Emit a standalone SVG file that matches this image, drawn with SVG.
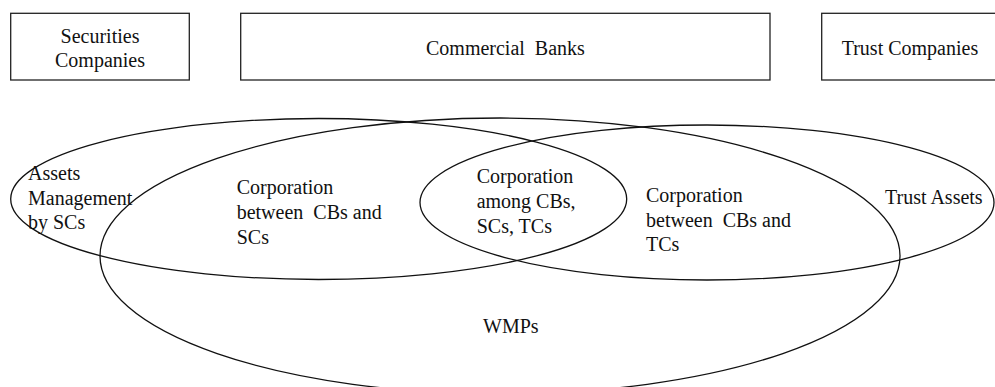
<svg xmlns="http://www.w3.org/2000/svg" width="995" height="387" viewBox="0 0 995 387">
<style>
.box{fill:#fff;stroke:#222;stroke-width:1.3}
.ell{fill:none;stroke:#111;stroke-width:1.3}
.t{font-family:"Liberation Serif","Times New Roman",Tinos,serif;font-size:20px;fill:#111}
.c{text-anchor:middle}
</style>
<rect x="0" y="0" width="995" height="387" fill="#fff"/>
<g id="securities-companies">
<rect class="box" x="10.7" y="13.3" width="178.6" height="66.7"/>
<text class="t c" x="100" y="42.7">Securities</text>
<text class="t c" x="100" y="66.7">Companies</text>
</g>
<g id="commercial-banks">
<rect class="box" x="240.7" y="13.3" width="529.3" height="66.7"/>
<text class="t" x="426" y="55">Commercial<tspan dx="5"> Banks</tspan></text>
</g>
<g id="trust-companies">
<rect class="box" x="821.7" y="13.3" width="200" height="66.7"/>
<text class="t" x="841.7" y="55">Trust Companies</text>
</g>
<g id="wmps">
<ellipse class="ell" cx="500" cy="256" rx="400" ry="138"/>
<text class="t" x="483" y="333">WMPs</text>
</g>
<g id="sc-assets">
<ellipse class="ell" cx="318.7" cy="199" rx="308" ry="80.5"/>
<text class="t" x="28" y="179.5">Assets</text>
<text class="t" x="28" y="204.5">Management</text>
<text class="t" x="28" y="229">by SCs</text>
</g>
<g id="trust-assets">
<ellipse class="ell" cx="707" cy="202.5" rx="287" ry="77.5"/>
<text class="t" x="885" y="203.5">Trust Assets</text>
</g>
<g id="cb-sc">
<text class="t" x="236.7" y="193.5">Corporation</text>
<text class="t" x="236.7" y="218.5">between<tspan dx="5"> CBs and</tspan></text>
<text class="t" x="236.7" y="243.5">SCs</text>
</g>
<g id="cb-sc-tc">
<text class="t" x="476.7" y="183.3">Corporation</text>
<text class="t" x="476.7" y="208.3">among CBs,</text>
<text class="t" x="476.7" y="232.7">SCs, TCs</text>
</g>
<g id="cb-tc">
<text class="t" x="646" y="201.7">Corporation</text>
<text class="t" x="646" y="226.7">between<tspan dx="5"> CBs and</tspan></text>
<text class="t" x="646" y="250.7">TCs</text>
</g>
</svg>
